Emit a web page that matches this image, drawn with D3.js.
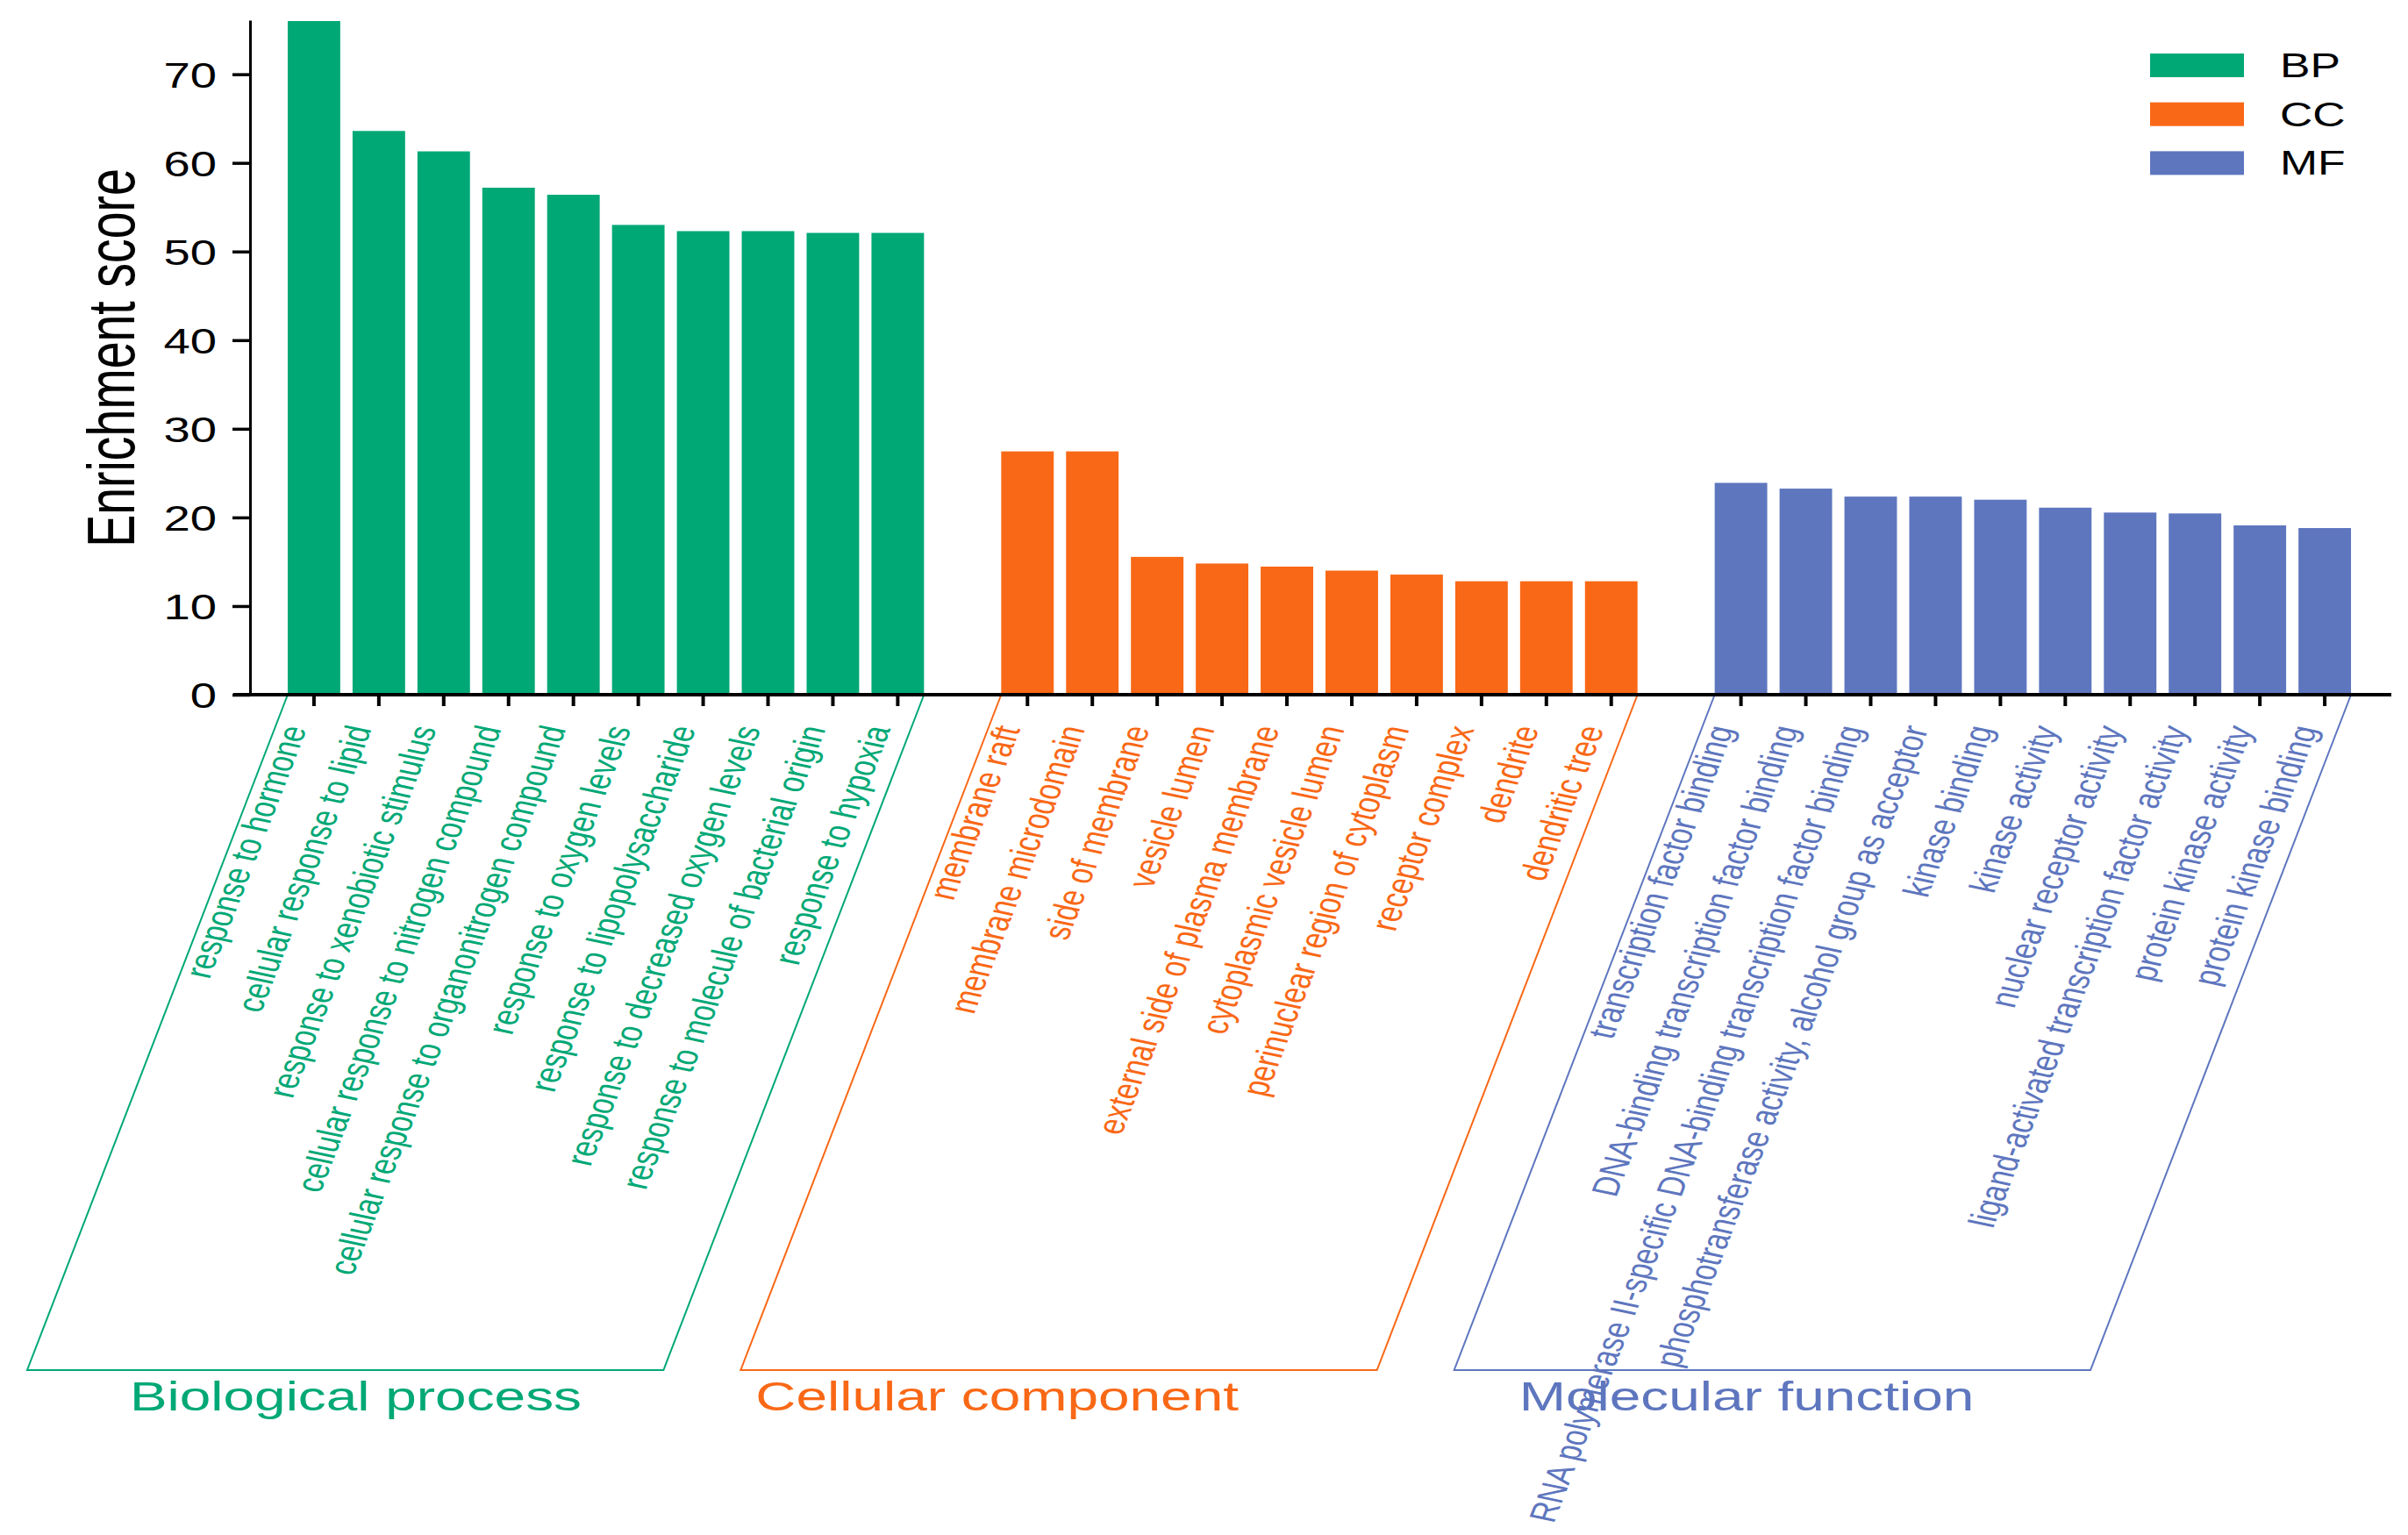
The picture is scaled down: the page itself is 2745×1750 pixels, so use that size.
<!DOCTYPE html>
<html>
<head>
<meta charset="utf-8">
<script src="https://cdn.jsdelivr.net/npm/d3@7"></script>
<style>
  body { margin: 0; background: #fff; }
  text { font-family: "Liberation Sans", Arial, sans-serif; }
</style>
</head>
<body>
<svg id="chart"></svg>
<script>
// GO enrichment, top 10 terms per ontology
const groups = ["BP", "CC", "MF"];
const groupTitles = ["Biological process", "Cellular component", "Molecular function"];
const groupColors = ["#00a876", "#f96816", "#5e76be"];

const bpTerms = ["response to hormone", "cellular response to lipid", "response to xenobiotic stimulus",
  "cellular response to nitrogen compound", "cellular response to organonitrogen compound",
  "response to oxygen levels", "response to lipopolysaccharide", "response to decreased oxygen levels",
  "response to molecule of bacterial origin", "response to hypoxia"];
const bpScores = [76.0, 63.6, 61.3, 57.2, 56.4, 53.0, 52.3, 52.3, 52.1, 52.1];

const ccTerms = ["membrane raft", "membrane microdomain", "side of membrane", "vesicle lumen",
  "external side of plasma membrane", "cytoplasmic vesicle lumen", "perinuclear region of cytoplasm",
  "receptor complex", "dendrite", "dendritic tree"];
const ccScores = [27.45, 27.45, 15.55, 14.8, 14.45, 14.0, 13.55, 12.8, 12.8, 12.8];

const mfTerms = ["transcription factor binding", "DNA-binding transcription factor binding",
  "RNA polymerase II-specific DNA-binding transcription factor binding",
  "phosphotransferase activity, alcohol group as acceptor", "kinase binding", "kinase activity",
  "nuclear receptor activity", "ligand-activated transcription factor activity",
  "protein kinase activity", "protein kinase binding"];
const mfScores = [23.9, 23.25, 22.35, 22.35, 22.0, 21.1, 20.55, 20.45, 19.1, 18.8];

const yTicks = [0, 10, 20, 30, 40, 50, 60, 70];

const W = 2745, H = 1750;
const SX = 1.36;          // the source figure has its text widened horizontally
const base = 792, frameBottom = 1562, frameShift = 297;
const titleOffsets = [117, 17, 74];

const svg = d3.select("#chart").attr("width", W).attr("height", H);

// one band per bar, one empty band between ontologies
const sets = [bpTerms, ccTerms, mfTerms];
const scores = [bpScores, ccScores, mfScores];
const rows = [], slots = [];
sets.forEach((terms, g) => {
  if (g > 0) slots.push("gap" + g);
  terms.forEach((t, i) => {
    const key = g + ":" + t;
    slots.push(key);
    rows.push({ key: key, term: t, value: scores[g][i], g: g });
  });
});

const x = d3.scaleBand().domain(slots).range([291, 2717]).paddingInner(0.19).paddingOuter(0.5);
const y = d3.scaleLinear().domain([0, 76.1]).range([base, 23]);
const bw = x.bandwidth();

// slanted frames under each group
sets.forEach((terms, g) => {
  const x0 = x(g + ":" + terms[0]);
  const x1 = x(g + ":" + terms[terms.length - 1]) + bw;
  svg.append("path")
    .attr("d", `M${x0},${base}L${x0 - frameShift},${frameBottom}L${x1 - frameShift},${frameBottom}L${x1},${base}`)
    .attr("fill", "none")
    .attr("stroke", groupColors[g])
    .attr("stroke-width", 2);

  svg.append("text")
    .attr("transform", `translate(${x0 - frameShift + titleOffsets[g]},1608) scale(${SX},1)`)
    .attr("font-size", 47)
    .attr("fill", groupColors[g])
    .text(groupTitles[g]);
});

// bars
svg.append("g")
  .selectAll("rect")
  .data(rows)
  .enter()
  .append("rect")
  .attr("x", d => x(d.key))
  .attr("y", d => y(d.value))
  .attr("width", bw)
  .attr("height", d => base - y(d.value))
  .attr("fill", d => groupColors[d.g]);

// category labels
svg.append("g")
  .selectAll("text")
  .data(rows)
  .enter()
  .append("text")
  .attr("transform", d => `translate(${x(d.key) + bw / 2 - 8},831) scale(${SX},1) rotate(-74)`)
  .attr("text-anchor", "end")
  .attr("font-size", 31.5)
  .attr("fill", d => groupColors[d.g])
  .text(d => d.term);

// x axis
const xAxis = svg.append("g")
  .attr("transform", `translate(0,${base})`)
  .call(d3.axisBottom(x).tickValues(rows.map(d => d.key)).tickSize(13).tickSizeOuter(0).tickFormat(""));
xAxis.select(".domain").remove();
xAxis.selectAll(".tick line").attr("stroke", "#000").attr("stroke-width", 4);
svg.append("line")
  .attr("x1", 266).attr("x2", 2726)
  .attr("y1", base).attr("y2", base)
  .attr("stroke", "#000").attr("stroke-width", 4);

// y axis
const yAxis = svg.append("g")
  .attr("transform", "translate(285,0)")
  .call(d3.axisLeft(y).tickValues(yTicks).tickSize(20).tickSizeOuter(0));
yAxis.attr("font-size", null).attr("font-family", null);
yAxis.select(".domain").attr("stroke", "#000").attr("stroke-width", 3);
yAxis.selectAll(".tick line").attr("stroke", "#000").attr("stroke-width", 3.5);
yAxis.selectAll(".tick text")
  .attr("x", -38 / SX)
  .attr("dy", "0.36em")
  .attr("transform", `scale(${SX},1)`)
  .attr("font-size", 40)
  .attr("fill", "#000");

svg.append("text")
  .attr("transform", `translate(153,408) scale(${SX},1) rotate(-90)`)
  .attr("text-anchor", "middle")
  .attr("font-size", 55.5)
  .attr("fill", "#000")
  .text("Enrichment score");

// legend
const legend = svg.append("g");
groups.forEach((k, i) => {
  legend.append("rect")
    .attr("x", 2451).attr("y", 61 + i * 55.7)
    .attr("width", 107).attr("height", 27)
    .attr("fill", groupColors[i]);
  legend.append("text")
    .attr("transform", `translate(2599,${88 + i * 55.7}) scale(${SX},1)`)
    .attr("font-size", 38)
    .attr("fill", "#000")
    .text(k);
});
</script>
</body>
</html>
